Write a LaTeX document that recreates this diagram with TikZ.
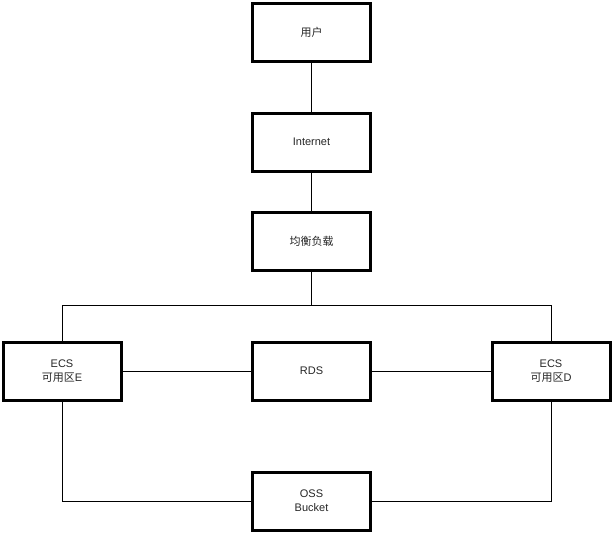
\documentclass[tikz,border=0pt]{standalone}
\usepackage{fontspec}
\setmainfont{Liberation Sans}
\newfontfamily\cjk{Noto Sans CJK SC}
\begin{document}
\begin{tikzpicture}[x=1pt,y=-1pt,
  box/.style={draw=black,line width=3pt,minimum width=118pt,minimum height=58pt,
    inner sep=0pt,align=center,font=\fontsize{11}{14}\selectfont,text=black!85},
  link/.style={draw=black,line width=1pt}]
\useasboundingbox[fill=white] (0,0) rectangle (613,533);
\node[box] (user) at (311.5,32) {\cjk 用户};
\node[box] (inet) at (311.5,142) {Internet};
\node[box] (lb) at (311.5,241) {\cjk 均衡负载};
\node[box] (ecse) at (62,371) {ECS\\{\cjk 可用区}E};
\node[box] (rds) at (311.5,371) {RDS};
\node[box] (ecsd) at (551,371) {ECS\\{\cjk 可用区}D};
\node[box] (oss) at (311.5,501) {OSS\\Bucket};
\coordinate (bus) at (311.5,305);
\draw[link] (user) -- (inet);
\draw[link] (inet) -- (lb);
\draw[link] (lb) -- (bus);
\draw[link] (bus) -| (ecse);
\draw[link] (bus) -| (ecsd);
\draw[link] (ecse) -- (rds);
\draw[link] (rds) -- (ecsd);
\draw[link] (ecse) |- (oss);
\draw[link] (ecsd) |- (oss);
\end{tikzpicture}
\end{document}
